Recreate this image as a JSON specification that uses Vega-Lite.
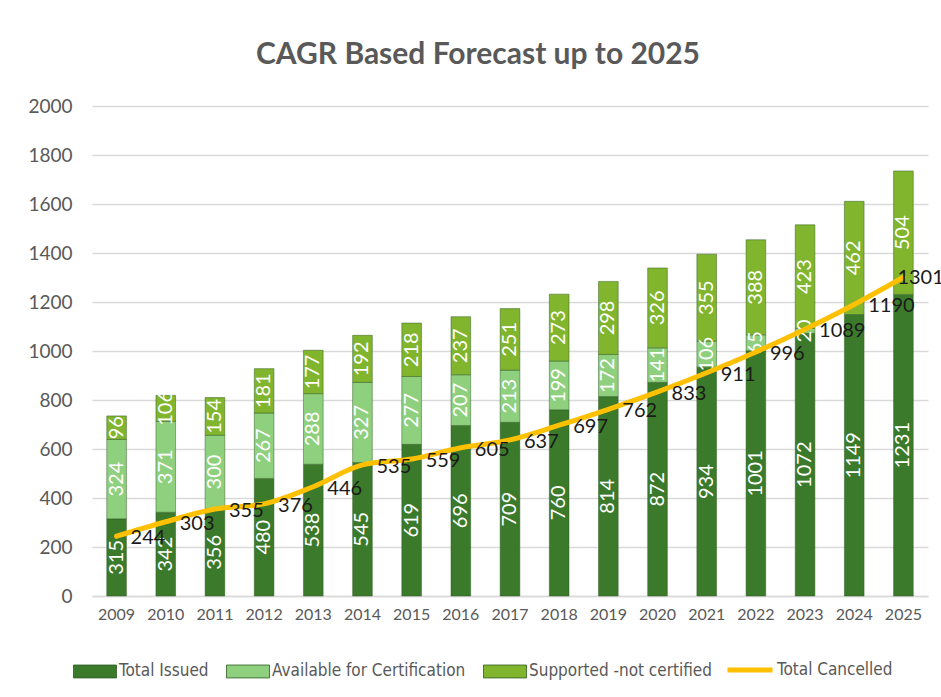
{
  "$schema": "https://vega.github.io/schema/vega-lite/v6.json",
  "autosize": "none",
  "width": 836,
  "height": 490,
  "padding": {"left": 92, "top": 106, "right": 13, "bottom": 101},
  "background": "white",
  "title": {
    "text": "CAGR Based Forecast up to 2025",
    "font": "Lato",
    "fontSize": 30,
    "fontWeight": "bold",
    "color": "#595959",
    "anchor": "middle",
    "offset": 27,
    "dx": -32
  },
  "datasets": {
    "bars": [
      {"year": "2009", "series": "Total Issued", "value": 315},
      {"year": "2010", "series": "Total Issued", "value": 342},
      {"year": "2011", "series": "Total Issued", "value": 356},
      {"year": "2012", "series": "Total Issued", "value": 480},
      {"year": "2013", "series": "Total Issued", "value": 538},
      {"year": "2014", "series": "Total Issued", "value": 545},
      {"year": "2015", "series": "Total Issued", "value": 619},
      {"year": "2016", "series": "Total Issued", "value": 696},
      {"year": "2017", "series": "Total Issued", "value": 709},
      {"year": "2018", "series": "Total Issued", "value": 760},
      {"year": "2019", "series": "Total Issued", "value": 814},
      {"year": "2020", "series": "Total Issued", "value": 872},
      {"year": "2021", "series": "Total Issued", "value": 934},
      {"year": "2022", "series": "Total Issued", "value": 1001},
      {"year": "2023", "series": "Total Issued", "value": 1072},
      {"year": "2024", "series": "Total Issued", "value": 1149},
      {"year": "2025", "series": "Total Issued", "value": 1231},
      {"year": "2009", "series": "Available for Certification", "value": 324},
      {"year": "2010", "series": "Available for Certification", "value": 371},
      {"year": "2011", "series": "Available for Certification", "value": 300},
      {"year": "2012", "series": "Available for Certification", "value": 267},
      {"year": "2013", "series": "Available for Certification", "value": 288},
      {"year": "2014", "series": "Available for Certification", "value": 327},
      {"year": "2015", "series": "Available for Certification", "value": 277},
      {"year": "2016", "series": "Available for Certification", "value": 207},
      {"year": "2017", "series": "Available for Certification", "value": 213},
      {"year": "2018", "series": "Available for Certification", "value": 199},
      {"year": "2019", "series": "Available for Certification", "value": 172},
      {"year": "2020", "series": "Available for Certification", "value": 141},
      {"year": "2021", "series": "Available for Certification", "value": 106},
      {"year": "2022", "series": "Available for Certification", "value": 65},
      {"year": "2023", "series": "Available for Certification", "value": 20},
      {"year": "2024", "series": "Available for Certification", "value": 0},
      {"year": "2025", "series": "Available for Certification", "value": 0},
      {"year": "2009", "series": "Supported -not certified", "value": 96},
      {"year": "2010", "series": "Supported -not certified", "value": 106},
      {"year": "2011", "series": "Supported -not certified", "value": 154},
      {"year": "2012", "series": "Supported -not certified", "value": 181},
      {"year": "2013", "series": "Supported -not certified", "value": 177},
      {"year": "2014", "series": "Supported -not certified", "value": 192},
      {"year": "2015", "series": "Supported -not certified", "value": 218},
      {"year": "2016", "series": "Supported -not certified", "value": 237},
      {"year": "2017", "series": "Supported -not certified", "value": 251},
      {"year": "2018", "series": "Supported -not certified", "value": 273},
      {"year": "2019", "series": "Supported -not certified", "value": 298},
      {"year": "2020", "series": "Supported -not certified", "value": 326},
      {"year": "2021", "series": "Supported -not certified", "value": 355},
      {"year": "2022", "series": "Supported -not certified", "value": 388},
      {"year": "2023", "series": "Supported -not certified", "value": 423},
      {"year": "2024", "series": "Supported -not certified", "value": 462},
      {"year": "2025", "series": "Supported -not certified", "value": 504}
    ],
    "cancelled": [
      {"year": "2009", "series": "Total Cancelled", "value": 244},
      {"year": "2010", "series": "Total Cancelled", "value": 303},
      {"year": "2011", "series": "Total Cancelled", "value": 355},
      {"year": "2012", "series": "Total Cancelled", "value": 376},
      {"year": "2013", "series": "Total Cancelled", "value": 446},
      {"year": "2014", "series": "Total Cancelled", "value": 535},
      {"year": "2015", "series": "Total Cancelled", "value": 559},
      {"year": "2016", "series": "Total Cancelled", "value": 605},
      {"year": "2017", "series": "Total Cancelled", "value": 637},
      {"year": "2018", "series": "Total Cancelled", "value": 697},
      {"year": "2019", "series": "Total Cancelled", "value": 762},
      {"year": "2020", "series": "Total Cancelled", "value": 833},
      {"year": "2021", "series": "Total Cancelled", "value": 911},
      {"year": "2022", "series": "Total Cancelled", "value": 996},
      {"year": "2023", "series": "Total Cancelled", "value": 1089},
      {"year": "2024", "series": "Total Cancelled", "value": 1190},
      {"year": "2025", "series": "Total Cancelled", "value": 1301}
    ]
  },
  "encoding": {
    "x": {
      "field": "year",
      "type": "ordinal",
      "scale": {"paddingInner": 0.6, "paddingOuter": 0.3},
      "axis": {
        "title": null,
        "labelAngle": 0,
        "labelFont": "Lato",
        "labelFontSize": 16,
        "labelColor": "#595959",
        "labelPadding": 10,
        "ticks": false,
        "domainColor": "#d9d9d9",
        "domainWidth": 1.5
      }
    }
  },
  "layer": [
    {
      "data": {"name": "bars"},
      "transform": [
        {"filter": "datum.value > 0"},
        {"calculate": "indexof(['Total Issued','Available for Certification','Supported -not certified'], datum.series)", "as": "ord"}
      ],
      "mark": {"type": "bar", "stroke": "#2f5a22", "strokeWidth": 0.8, "strokeOpacity": 0.6},
      "encoding": {
        "y": {
          "field": "value",
          "type": "quantitative",
          "stack": "zero",
          "scale": {"domain": [0, 2000]},
          "axis": {
            "title": null,
            "format": "d",
            "values": [0, 200, 400, 600, 800, 1000, 1200, 1400, 1600, 1800, 2000],
            "labelFont": "Lato",
            "labelFontSize": 19,
            "labelColor": "#595959",
            "labelPadding": 20,
            "ticks": false,
            "domain": false,
            "gridColor": "#d9d9d9",
            "gridWidth": 1.5
          }
        },
        "order": {"field": "ord", "type": "quantitative"},
        "color": {
          "field": "series",
          "type": "nominal",
          "scale": {
            "domain": ["Total Issued", "Available for Certification", "Supported -not certified"],
            "range": ["#3b7a2b", "#8fd07f", "#80b52d"]
          },
          "legend": {
            "title": null,
            "orient": "none",
            "legendX": -19,
            "legendY": 543,
            "direction": "horizontal",
            "symbolType": "M-1,-0.3H1V0.3H-1Z",
            "symbolSize": 1849,
            "symbolStrokeColor": "#2f5a22",
            "symbolStrokeWidth": 0.8,
            "labelFont": "DejaVu Sans Condensed, Lato, sans-serif",
            "labelFontSize": 17,
            "labelColor": "#595959",
            "labelLimit": 0,
            "labelOffset": 2,
            "columnPadding": 15
          }
        }
      }
    },
    {
      "data": {"name": "bars"},
      "transform": [
        {"calculate": "indexof(['Total Issued','Available for Certification','Supported -not certified'], datum.series)", "as": "ord"},
        {"stack": "value", "groupby": ["year"], "sort": [{"field": "ord"}], "as": ["v0", "v1"]},
        {"calculate": "(datum.v0 + datum.v1) / 2", "as": "mid"},
        {"filter": "datum.value > 0"}
      ],
      "mark": {"type": "text", "angle": 270, "color": "white", "font": "Lato", "fontSize": 20, "align": "center", "baseline": "middle"},
      "encoding": {
        "y": {"field": "mid", "type": "quantitative"},
        "text": {"field": "value", "type": "quantitative"}
      }
    },
    {
      "data": {"name": "cancelled"},
      "mark": {"type": "line", "strokeWidth": 5, "interpolate": "monotone", "strokeCap": "round"},
      "encoding": {
        "y": {"field": "value", "type": "quantitative"},
        "stroke": {
          "field": "series",
          "type": "nominal",
          "scale": {"domain": ["Total Cancelled"], "range": ["#ffc000"]},
          "legend": {
            "title": null,
            "orient": "none",
            "legendX": 633,
            "legendY": 539,
            "direction": "horizontal",
            "symbolType": "stroke",
            "symbolSize": 2025,
            "symbolStrokeWidth": 5,
            "labelFont": "DejaVu Sans Condensed, Lato, sans-serif",
            "labelFontSize": 17,
            "labelColor": "#595959",
            "labelLimit": 0,
            "labelOffset": 2
          }
        }
      }
    },
    {
      "data": {"name": "cancelled"},
      "transform": [{"filter": "datum.year != '2025'"}],
      "mark": {"type": "text", "align": "left", "baseline": "middle", "dx": 14, "dy": 2, "font": "Lato", "fontSize": 20, "color": "#1a1a1a"},
      "encoding": {
        "y": {"field": "value", "type": "quantitative"},
        "text": {"field": "value", "type": "quantitative"}
      }
    },
    {
      "data": {"name": "cancelled"},
      "transform": [{"filter": "datum.year == '2025'"}],
      "mark": {"type": "text", "align": "left", "baseline": "middle", "dx": -6, "dy": 1, "font": "Lato", "fontSize": 20, "color": "#1a1a1a"},
      "encoding": {
        "y": {"field": "value", "type": "quantitative"},
        "text": {"field": "value", "type": "quantitative"}
      }
    }
  ],
  "config": {
    "view": {"stroke": null}
  }
}
